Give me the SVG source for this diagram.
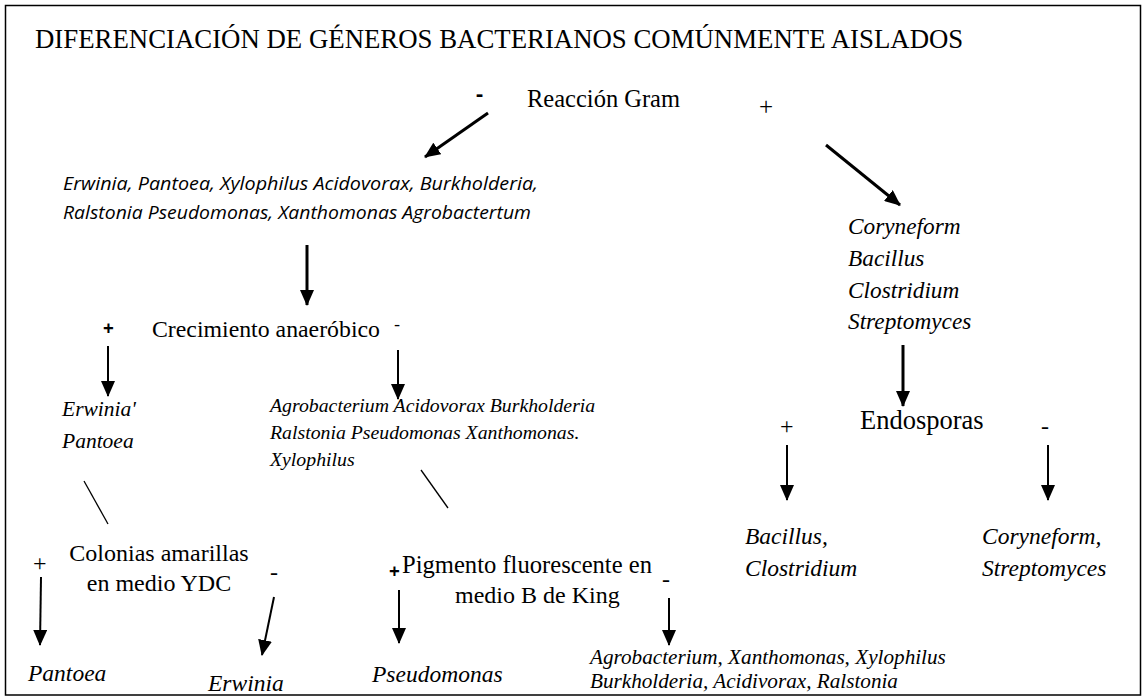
<svg xmlns="http://www.w3.org/2000/svg" width="1143" height="697" viewBox="0 0 1143 697">
<style>
.serif{font-family:"Liberation Serif","Times New Roman",serif;fill:#000}
.it{font-style:italic}
.sans{font-family:"Open Sans","Liberation Sans",sans-serif;fill:#000}
.ln{stroke:#000;fill:none}
.th{stroke-width:3}
.tn{stroke-width:2}
</style>
<defs>
<marker id="ah" markerUnits="userSpaceOnUse" markerWidth="16" markerHeight="14" refX="15" refY="7" orient="auto">
<path d="M0,0 L16,7 L0,14 Z" fill="#000"/>
</marker>
</defs>
<rect x="5.5" y="5.5" width="1135" height="689.5" fill="#fff" stroke="#000" stroke-width="1.5"/>
<g id="title"><text class="serif" x="35" y="48" font-size="26.8">DIFERENCIACIÓN DE GÉNEROS BACTERIANOS COMÚNMENTE AISLADOS</text></g>
<g id="gram">
<text class="sans" x="476" y="101" font-size="22" font-weight="bold">-</text>
<text class="serif" x="527" y="107" font-size="24.5">Reacción Gram</text>
<text class="serif" x="759" y="115" font-size="25">+</text>
</g>
<g id="gramneg"><text class="sans it" x="63" y="190" font-size="19" textLength="475" lengthAdjust="spacingAndGlyphs">Erwinia, Pantoea, Xylophilus Acidovorax, Burkholderia,</text>
<text class="sans it" x="63" y="219" font-size="19" textLength="468" lengthAdjust="spacingAndGlyphs">Ralstonia Pseudomonas, Xanthomonas Agrobactertum</text></g>
<g id="grampos" class="serif it" font-size="23.3">
<text x="848" y="234">Coryneform</text>
<text x="848" y="266">Bacillus</text>
<text x="848" y="298">Clostridium</text>
<text x="848" y="329">Streptomyces</text>
</g>
<g id="anaer">
<text class="sans" x="103" y="335" font-size="19" font-weight="bold">+</text>
<text class="serif" x="152" y="337" font-size="23.8">Crecimiento anaeróbico</text>
<text class="sans" x="394" y="331" font-size="19">-</text>
</g>
<g id="erwpan" class="serif it" font-size="21.5">
<text x="62" y="416">Erwinia'</text>
<text x="62" y="448">Pantoea</text>
</g>
<g id="agroacid" class="serif it" font-size="19.8">
<text x="270" y="412">Agrobacterium Acidovorax Burkholderia</text>
<text x="270" y="439">Ralstonia Pseudomonas Xanthomonas.</text>
<text x="270" y="466">Xylophilus</text>
</g>
<g id="colonias">
<text class="serif" x="159" y="561" font-size="24" text-anchor="middle">Colonias amarillas</text>
<text class="serif" x="159" y="591" font-size="24" text-anchor="middle">en medio YDC</text>
<text class="serif" x="33" y="571" font-size="24">+</text>
<text class="serif" x="270" y="580" font-size="24">-</text>
</g>
<g id="pigmento">
<text class="sans" x="389" y="578" font-size="19" font-weight="bold">+</text>
<text class="serif" x="402" y="573" font-size="24.6">Pigmento fluorescente en</text>
<text class="serif" x="455" y="603" font-size="24">medio B de King</text>
<text class="serif" x="662" y="587" font-size="24">-</text>
</g>
<g id="endosporas">
<text class="serif" x="860" y="429" font-size="26.5">Endosporas</text>
<text class="serif" x="780" y="434" font-size="24">+</text>
<text class="serif" x="1041" y="434" font-size="24">-</text>
</g>
<g id="bacclo" class="serif it" font-size="23.5">
<text x="745" y="544">Bacillus,</text>
<text x="745" y="576">Clostridium</text>
</g>
<g id="corstr" class="serif it" font-size="23.5">
<text x="982" y="544">Coryneform,</text>
<text x="982" y="576">Streptomyces</text>
</g>
<g id="pantoea"><text class="serif it" x="28" y="681" font-size="23.5">Pantoea</text></g>
<g id="erwinia"><text class="serif it" x="208" y="691" font-size="23.5">Erwinia</text></g>
<g id="pseudomonas"><text class="serif it" x="372" y="682" font-size="23.5">Pseudomonas</text></g>
<g id="agroxan" class="serif it" font-size="21.2">
<text x="590" y="664">Agrobacterium, Xanthomonas, Xylophilus</text>
<text x="590" y="688">Burkholderia, Acidivorax, Ralstonia</text>
</g>
<g id="connectors">
<line class="ln th" x1="488" y1="113" x2="425" y2="157" marker-end="url(#ah)"/>
<line class="ln th" x1="826" y1="145" x2="900" y2="205" marker-end="url(#ah)"/>
<line class="ln th" x1="307" y1="245" x2="307" y2="305" marker-end="url(#ah)"/>
<line class="ln tn" x1="108" y1="346" x2="108" y2="396" marker-end="url(#ah)"/>
<line class="ln tn" x1="398" y1="350" x2="398" y2="399" marker-end="url(#ah)"/>
<line class="ln" stroke-width="1.3" x1="84" y1="481" x2="108" y2="524"/>
<line class="ln" stroke-width="1.3" x1="421" y1="470" x2="448" y2="508"/>
<line class="ln tn" x1="41" y1="577" x2="40" y2="645" marker-end="url(#ah)"/>
<line class="ln tn" x1="274" y1="597" x2="262" y2="655" marker-end="url(#ah)"/>
<line class="ln tn" x1="399" y1="590" x2="399" y2="643" marker-end="url(#ah)"/>
<line class="ln tn" x1="669" y1="598" x2="669" y2="645" marker-end="url(#ah)"/>
<line class="ln th" x1="903" y1="345" x2="903" y2="406" marker-end="url(#ah)"/>
<line class="ln tn" x1="787" y1="445" x2="787" y2="500" marker-end="url(#ah)"/>
<line class="ln tn" x1="1048" y1="445" x2="1048" y2="500" marker-end="url(#ah)"/>
</g>
</svg>
